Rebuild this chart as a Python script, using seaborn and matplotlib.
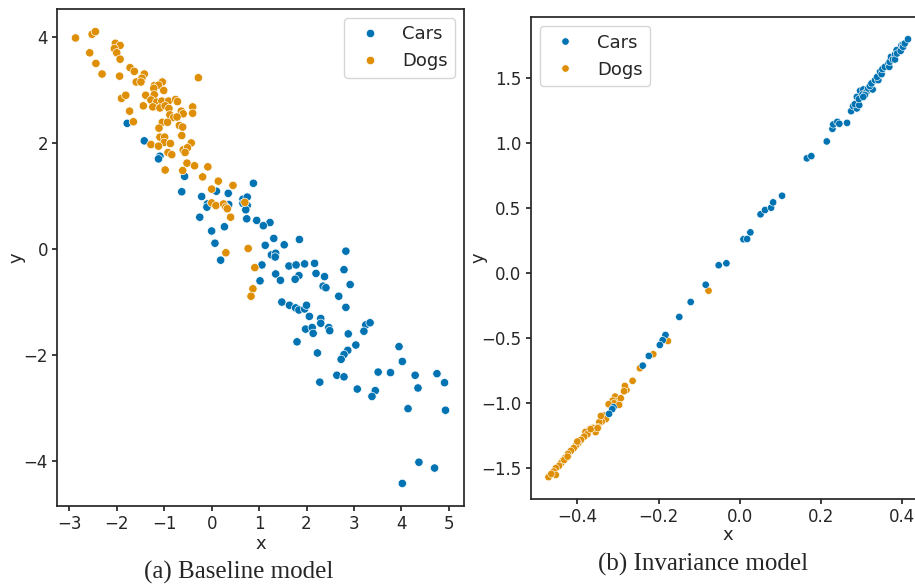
import matplotlib
matplotlib.use("Agg")
import matplotlib.pyplot as plt
import seaborn as sns
import pandas as pd

# ---- Panel (a): Baseline model ----
cars_a_x = [-1.78,-1.42,-1.09,-1.12,-0.57,-0.63,0.88,0.10,0.35,-0.21,-0.09,-0.10,0.36,0.66,0.75,0.66,0.75,0.72,-0.25,0.74,
            0.95,1.23,1.09,0.27,0.00,1.31,0.07,1.85,1.13,1.53,1.26,1.35,1.34,0.19,2.83,1.06,1.63,1.78,1.96,2.17,
            2.79,1.35,1.84,1.76,2.20,2.38,1.45,1.02,2.35,2.41,2.92,2.68,1.48,1.64,1.77,1.84,1.96,2.00,2.83,2.06,
            2.30,2.30,1.98,2.12,2.14,2.47,2.49,2.88,3.25,3.34,3.21,1.80,3.04,2.87,2.79,2.73,2.23,3.95,4.02,3.51,
            3.77,2.64,2.79,2.28,4.29,4.75,4.91,4.35,3.07,3.45,3.38,4.14,4.93,4.37,4.70,4.02]
cars_a_y = [2.37,2.04,1.75,1.70,1.37,1.08,1.24,1.09,1.05,0.99,0.85,0.79,0.84,0.94,0.98,0.86,0.82,0.74,0.60,0.57,
            0.54,0.50,0.44,0.42,0.34,0.20,0.11,0.18,0.07,0.08,-0.11,-0.08,-0.15,-0.21,-0.04,-0.30,-0.32,-0.30,-0.28,-0.27,
            -0.39,-0.47,-0.50,-0.57,-0.46,-0.52,-0.59,-0.60,-0.70,-0.73,-0.67,-0.89,-1.00,-1.06,-1.11,-1.15,-1.13,-1.06,-1.10,-1.27,
            -1.31,-1.40,-1.51,-1.48,-1.59,-1.48,-1.54,-1.60,-1.43,-1.39,-1.55,-1.75,-1.81,-1.91,-1.99,-2.08,-1.96,-1.84,-2.12,-2.32,
            -2.33,-2.38,-2.41,-2.51,-2.38,-2.35,-2.52,-2.62,-2.64,-2.67,-2.78,-3.01,-3.04,-4.02,-4.13,-4.42]
dogs_a_x = [-2.87,-2.52,-2.45,-2.03,-1.93,-2.05,-2.00,-2.57,-1.93,-2.44,-2.31,-1.94,-1.72,-1.63,-1.42,-1.47,-1.59,-1.49,-0.28,-1.04,
            -1.21,-1.12,-1.22,-1.01,-1.90,-1.81,-1.39,-1.21,-1.28,-1.16,-1.05,-0.91,-0.76,-0.72,-1.44,-1.24,-1.09,-0.98,-0.90,-0.40,
            -0.64,-0.60,-0.40,-0.88,-0.80,-0.73,-1.73,-1.65,-1.04,-0.93,-0.68,-0.61,-1.11,-0.63,-1.09,-0.99,-1.00,-0.87,-0.43,-1.28,
            -1.12,-0.60,-0.51,-0.56,-0.92,-0.84,-0.52,-0.36,-0.08,-0.61,-0.98,-0.19,0.14,0.45,0.00,0.00,0.09,0.25,0.30,0.33,
            0.70,0.40,0.77,0.30,0.91,0.87,0.83]
dogs_a_y = [3.98,4.05,4.10,3.88,3.84,3.78,3.70,3.70,3.58,3.50,3.30,3.26,3.42,3.35,3.30,3.22,3.15,3.15,3.23,3.15,
            3.08,3.09,3.03,2.99,2.84,2.90,2.90,2.91,2.81,2.77,2.79,2.79,2.82,2.78,2.70,2.68,2.66,2.70,2.65,2.68,
            2.60,2.55,2.56,2.53,2.48,2.49,2.60,2.40,2.39,2.39,2.33,2.30,2.28,2.14,2.11,2.11,2.01,1.99,2.00,1.97,
            1.94,1.87,1.91,1.82,1.82,1.78,1.62,1.57,1.55,1.48,1.49,1.36,1.28,1.20,1.13,0.87,0.82,0.85,0.79,0.76,
            0.88,0.60,0.01,-0.07,-0.35,-0.75,-0.89]

# ---- Panel (b): Invariance model ----
cars_b_x = [-0.033,-0.052,-0.084,-0.121,-0.149,-0.183,-0.190,-0.197,-0.224,-0.239,-0.311,-0.314,-0.322,
            0.009,0.018,0.026,0.051,0.062,0.077,0.082,0.104,0.165,0.176,0.214,0.228,0.230,0.240,0.245,0.264,
            0.274,0.279,0.288,0.283,0.294,0.288,0.293,0.296,0.304,0.302,0.312,0.308,0.304,0.316,0.327,0.320,
            0.324,0.333,0.341,0.338,0.345,0.349,0.351,0.357,0.366,0.368,0.369,0.372,0.377,0.382,0.382,0.386,
            0.387,0.396,0.398,0.402,0.402,0.406,0.414]
cars_b_y = [0.077,0.062,-0.088,-0.221,-0.336,-0.475,-0.515,-0.552,-0.636,-0.711,-1.031,-1.046,-1.082,
            0.262,0.264,0.315,0.454,0.487,0.505,0.546,0.597,0.885,0.902,1.015,1.112,1.146,1.166,1.151,1.158,
            1.248,1.287,1.269,1.302,1.295,1.358,1.341,1.405,1.415,1.377,1.397,1.372,1.358,1.423,1.415,1.441,
            1.462,1.487,1.487,1.512,1.551,1.533,1.572,1.589,1.615,1.589,1.628,1.666,1.646,1.685,1.646,1.718,
            1.692,1.712,1.756,1.762,1.743,1.769,1.802]
dogs_b_x = [-0.077,-0.177,-0.213,-0.246,-0.264,-0.279,-0.283,-0.285,-0.298,-0.307,-0.301,-0.313,-0.310,-0.323,
            -0.334,-0.330,-0.340,-0.346,-0.349,-0.355,-0.362,-0.369,-0.380,-0.375,-0.383,-0.391,-0.398,-0.404,
            -0.409,-0.416,-0.423,-0.431,-0.436,-0.440,-0.445,-0.453,-0.458,-0.471,
            -0.453,-0.432,-0.400,-0.367,-0.350,-0.342,-0.293,-0.297,-0.464,-0.424]
dogs_b_y = [-0.134,-0.521,-0.623,-0.731,-0.828,-0.898,-0.867,-0.908,-0.965,-0.949,-0.985,-0.980,-1.000,-1.008,
            -1.095,-1.123,-1.142,-1.146,-1.185,-1.223,-1.190,-1.198,-1.221,-1.238,-1.257,-1.282,-1.308,-1.328,
            -1.346,-1.367,-1.390,-1.423,-1.442,-1.462,-1.482,-1.500,-1.526,-1.569,
            -1.552,-1.436,-1.295,-1.200,-1.192,-1.098,-0.962,-1.013,-1.544,-1.411]

classes = ["Cars", "Dogs"]
captions = ["(a) Baseline model", "(b) Invariance model"]

sns.set_theme(style="ticks")
plt.rcParams["font.family"] = ["DejaVu Sans"]
palette = {"Cars": "#0173b2", "Dogs": "#de8f05"}

df_a = pd.concat([
    pd.DataFrame({"x": cars_a_x, "y": cars_a_y, "label": classes[0]}),
    pd.DataFrame({"x": dogs_a_x, "y": dogs_a_y, "label": classes[1]}),
], ignore_index=True)
df_b = pd.concat([
    pd.DataFrame({"x": dogs_b_x, "y": dogs_b_y, "label": classes[1]}),
    pd.DataFrame({"x": cars_b_x, "y": cars_b_y, "label": classes[0]}),
], ignore_index=True)

fig = plt.figure(figsize=(9.15, 5.85), dpi=100)
ax1 = fig.add_axes([0.0623, 0.135, 0.4448, 0.8496])
ax2 = fig.add_axes([0.5798, 0.147, 0.4322, 0.8234])

sns.scatterplot(data=df_a, x="x", y="y", hue="label", hue_order=classes,
                palette=palette, s=36, ax=ax1)
sns.scatterplot(data=df_b, x="x", y="y", hue="label", hue_order=classes,
                palette=palette, s=28, ax=ax2)

ax1.set_xticks(range(-3, 6))
ax1.set_yticks([-4, -2, 0, 2, 4])
ax2.set_xticks([-0.4, -0.2, 0.0, 0.2, 0.4])
ax2.set_yticks([-1.5, -1.0, -0.5, 0.0, 0.5, 1.0, 1.5])

for ax in (ax1, ax2):
    ax.tick_params(labelsize=12, length=3.5, pad=3)
    ax.set_xlabel("x", fontsize=13)
    ax.set_ylabel("y", fontsize=13)
    for sp in ax.spines.values():
        sp.set_visible(True)

# label positions (axes fractions)
ax1.xaxis.set_label_coords(0.5, -33 / 497 - 0.01)
ax1.yaxis.set_label_coords(-40 / 407, 0.5)
ax2.xaxis.set_label_coords((728 - 530.5) / 395.5, -31 / 482 - 0.01)
ax2.yaxis.set_label_coords(-52 / 395.5, 0.5)
ax1.xaxis.label.set_va("center")
ax2.xaxis.label.set_va("center")
ax1.yaxis.label.set_va("center")
ax2.yaxis.label.set_va("center")

sns.move_legend(ax1, "upper right", title=None, fontsize=13)
sns.move_legend(ax2, "upper left", title=None, fontsize=13)

fig.text(0.261, 1 - 572 / 585, captions[0], ha="center", va="center",
         family="Liberation Serif", fontsize=18)
fig.text(0.768, 1 - 564 / 585, captions[1], ha="center", va="center",
         family="Liberation Serif", fontsize=18)

fig.savefig("out.png", dpi=100)
